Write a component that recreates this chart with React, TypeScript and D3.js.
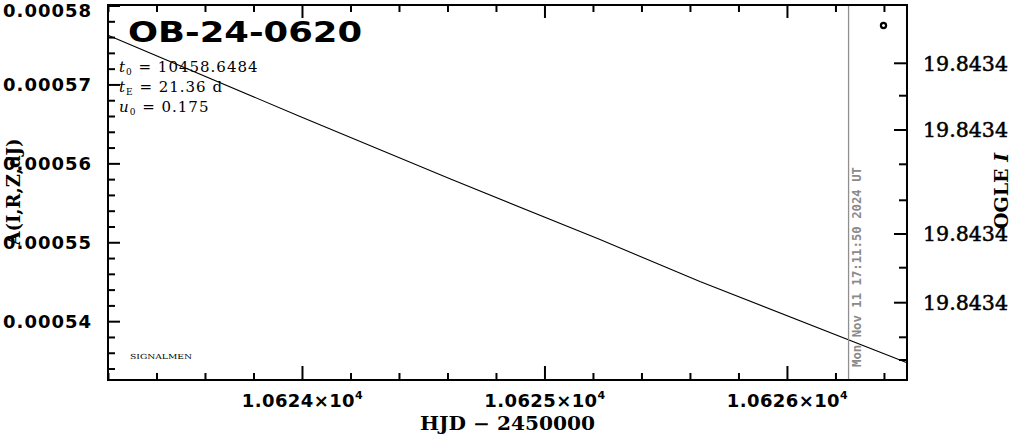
import React from "react";
import * as d3 from "d3";

// ---- data ----
const hjd = [10623.198, 10623.99, 10624.608, 10625.227, 10625.639, 10626.493];
const amp = [0.0005763, 0.000566, 0.0005581, 0.0005504, 0.0005451, 0.0005348];

const xDomain = [10623.198, 10626.493];
const yDomain = [0.00053261, 0.00058013];

const magDomain = [19.8434, 19.8434375];
const magMajorTicks = [19.84340583, 19.8434125, 19.8434229, 19.84342977];
const magMinorTicks = [19.84340907, 19.84341593, 19.84341953, 19.84342627, 19.84343323, 19.8434355];

const eventName = "OB-24-0620";
const paramLabels = [
  { sym: "t", sub: "0", value: "10458.6484" },
  { sym: "t", sub: "E", value: "21.36 d" },
  { sym: "u", sub: "0", value: "0.175" },
];
const nowHjd = 10626.252;
const nowLabel = "Mon Nov 11 17:11:50 2024 UT";
const xTitle = "HJD \u2212 2450000";
const yTitle = "A(I,R,Z,dJ)";
const y2Title = "OGLE";
const credit = "SIGNALMEN";

export default function App() {
  const W = 1011, H = 437;
  const L = 108, R = 907, T = 5, B = 380;
  const x = d3.scaleLinear().domain(xDomain).range([L, R]);
  const y = d3.scaleLinear().domain(yDomain).range([B, T]);
  const ym = d3.scaleLinear().domain(magDomain).range([T, B]);

  const xMajor = x.ticks(4);
  const xMinor = x.ticks(16).filter((t) => !xMajor.some((m) => Math.abs(m - t) < 1e-6));
  const yMajor = y.ticks(5);
  const yMinor = y.ticks(25).filter((t) => !yMajor.some((m) => Math.abs(m - t) < 1e-10));

  const line = d3.line<number>().x((d, i) => x(hjd[i])).y((d) => y(d));
  const fmtY = d3.format(".5f");
  const fmtM = d3.format(".4f");

  const maj = 13, mnr = 7;
  const tickStyle = { stroke: "#000", strokeWidth: 2 };

  return (
    <svg width={W} height={H} style={{ position: "absolute", left: 0, top: 0, background: "#fff" }}>
      <rect x={0} y={0} width={W} height={H} fill="#fff" />
      {/* model curve */}
      <path d={line(amp) || ""} fill="none" stroke="#000" strokeWidth={1.1} />

      {/* current time marker */}
      <line x1={x(nowHjd)} x2={x(nowHjd)} y1={T} y2={B} stroke="#8f8f8f" strokeWidth={1.3} />
      <text
        transform={`translate(${x(nowHjd) + 12.5},367) rotate(-90)`}
        fontFamily="DejaVu Sans Mono"
        fontWeight="bold"
        fontSize={13}
        fill="#8a8a8a"
        textLength={200}
        lengthAdjust="spacingAndGlyphs"
      >
        {nowLabel}
      </text>

      {/* x ticks bottom & top */}
      {xMajor.map((t) => (
        <g key={"xM" + t}>
          <line x1={x(t)} x2={x(t)} y1={B} y2={B - 14} {...tickStyle} />
          <line x1={x(t)} x2={x(t)} y1={T} y2={T + maj} {...tickStyle} />
          <text
            x={x(t)}
            y={407}
            textAnchor="middle"
            fontFamily="DejaVu Sans"
            fontWeight="bold"
            fontSize={18}
            letterSpacing={0.4}
          >
            {d3.format(".4f")(t / 1e4)}×10
            <tspan fontSize={11} dy={-8}>4</tspan>
          </text>
        </g>
      ))}
      {xMinor.map((t) => (
        <g key={"xm" + t}>
          <line x1={x(t)} x2={x(t)} y1={B} y2={B - mnr} {...tickStyle} />
          <line x1={x(t)} x2={x(t)} y1={T} y2={T + mnr} {...tickStyle} />
        </g>
      ))}

      {/* left y ticks */}
      {yMajor.map((t) => (
        <g key={"yM" + t}>
          <line x1={L} x2={L + 12} y1={y(t)} y2={y(t)} {...tickStyle} />
          <text
            x={92}
            y={Math.max(y(t), 11)}
            dy="0.36em"
            textAnchor="end"
            fontFamily="DejaVu Sans"
            fontWeight="bold"
            fontSize={18}
            letterSpacing={1}
          >
            {fmtY(t)}
          </text>
        </g>
      ))}
      {yMinor.map((t) => (
        <line key={"ym" + t} x1={L} x2={L + mnr} y1={y(t)} y2={y(t)} {...tickStyle} />
      ))}

      {/* right magnitude ticks */}
      {magMajorTicks.map((t) => (
        <g key={"mM" + t}>
          <line x1={R} x2={R - maj} y1={ym(t)} y2={ym(t)} {...tickStyle} />
          <text
            x={923}
            y={ym(t)}
            dy="0.36em"
            fontFamily="DejaVu Serif"
            fontSize={20}
            stroke="#000"
            strokeWidth={0.5}
            textLength={85}
            lengthAdjust="spacingAndGlyphs"
          >
            {fmtM(t)}
          </text>
        </g>
      ))}
      {magMinorTicks.map((t) => (
        <line key={"mm" + t} x1={R} x2={R - 8} y1={ym(t)} y2={ym(t)} {...tickStyle} />
      ))}

      {/* frame */}
      <rect x={L} y={T} width={R - L} height={B - T} fill="none" stroke="#000" strokeWidth={2} />

      {/* title and parameters */}
      <text
        x={128}
        y={42}
        fontFamily="DejaVu Sans"
        fontWeight="bold"
        fontSize={29}
        textLength={234}
        lengthAdjust="spacingAndGlyphs"
      >
        {eventName}
      </text>
      {paramLabels.map((p, i) => (
        <text
          key={"p" + i}
          x={119}
          y={72 + i * 20}
          fontFamily="DejaVu Serif"
          fontSize={15}
          letterSpacing={1}
        >
          <tspan fontStyle="italic">{p.sym}</tspan>
          <tspan fontSize={9} dy={3}>{p.sub}</tspan>
          <tspan dy={-3}>{" = " + p.value}</tspan>
        </text>
      ))}

      {/* credit */}
      <text x={130} y={359} fontFamily="DejaVu Serif" fontSize={7} textLength={62} lengthAdjust="spacingAndGlyphs">
        {credit}
      </text>

      {/* legend symbol */}
      <circle cx={883.5} cy={25.5} r={2.6} fill="none" stroke="#000" strokeWidth={2.2} />

      {/* axis titles */}
      <text
        x={507.5}
        y={430}
        textAnchor="middle"
        fontFamily="DejaVu Serif"
        fontWeight="bold"
        fontSize={18}
        textLength={175}
        lengthAdjust="spacingAndGlyphs"
      >
        {xTitle}
      </text>
      <text
        transform="translate(20,192) rotate(-90)"
        textAnchor="middle"
        fontFamily="DejaVu Serif"
        fontWeight="bold"
        fontSize={18}
      >
        {yTitle}
      </text>
      <text
        transform="translate(1008,191) rotate(-90)"
        textAnchor="middle"
        fontFamily="DejaVu Serif"
        fontWeight="bold"
        fontSize={19}
      >
        {y2Title} <tspan fontStyle="italic">I</tspan>
      </text>
    </svg>
  );
}
